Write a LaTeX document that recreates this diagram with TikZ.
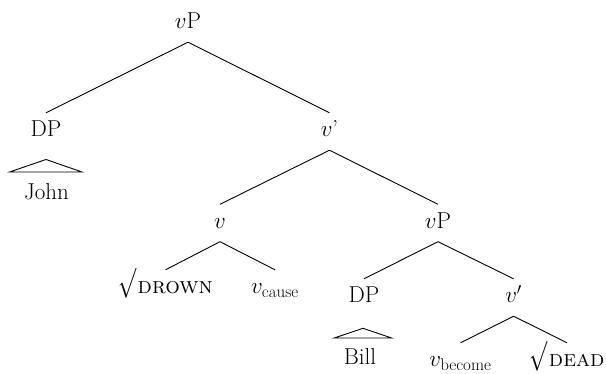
\RequirePackage{fix-cm}
\documentclass[tikz,border=0pt]{standalone}
\usepackage{fontspec}
\newcommand{\myroot}{\raisebox{-4.4pt}{\resizebox*{18pt}{30pt}{\raisebox{\depth}{$\surd$}}}\kern1.5pt}
\newcommand{\subtxt}[1]{\mbox{\fontsize{17}{17}\selectfont #1}}
\begin{document}
\begin{tikzpicture}[x=1pt,y=-1pt,
  lab/.style={font=\fontsize{23}{27}\selectfont, text height=16pt, text depth=5pt,
    inner xsep=2pt, inner ysep=8pt, anchor=base},
  br/.style={line width=0.9pt},
  roof/.style={line width=0.9pt, line join=miter}]
\useasboundingbox (0,0) rectangle (606,374);
% nodes
\node[lab] (vP1) at (188,29) {$v$P};
\node[lab] (DP1) at (46,137) {DP};
\node[lab] (John) at (46.5,200) {John};
\node[lab] (vb1) at (329.5,137) {$v$’};
\node[lab] (v1) at (220,228.5) {$v$};
\node[lab] (vP2) at (438,228.5) {$v$P};
\node[lab] (drown) at (165.5,294) {\myroot\textsc{drown}};
\node[lab] (cause) at (275,294) {$v_{\subtxt{cause}}$};
\node[lab] (DP2) at (364,303) {DP};
\node[lab] (Bill) at (360,365) {Bill};
\node[lab] (vb2) at (513.6,303) {$v'$};
\node[lab] (become) at (460.5,367) {$v_{\subtxt{become}}$};
\node[lab] (dead) at (567,367) {\myroot\textsc{dead}};
% branches
\draw[br] (vP1.south) -- (DP1.north);
\draw[br] (vP1.south) -- (vb1.north);
\draw[br] (vb1.south) -- (v1.north);
\draw[br] (vb1.south) -- (vP2.north);
\draw[br] (v1.south) -- (drown.north);
\draw[br] (v1.south) -- (cause.north);
\draw[br] (vP2.south) -- (DP2.north);
\draw[br] (vP2.south) -- (vb2.north);
\draw[br] (vb2.south) -- (become.north);
\draw[br] (vb2.south) -- (dead.north);
% roofs
\draw[roof] (46,159.5) -- (9.5,172) -- (82,172) -- cycle;
\draw[roof] (363,328.3) -- (334.2,338) -- (391.6,338) -- cycle;
\end{tikzpicture}
\end{document}
